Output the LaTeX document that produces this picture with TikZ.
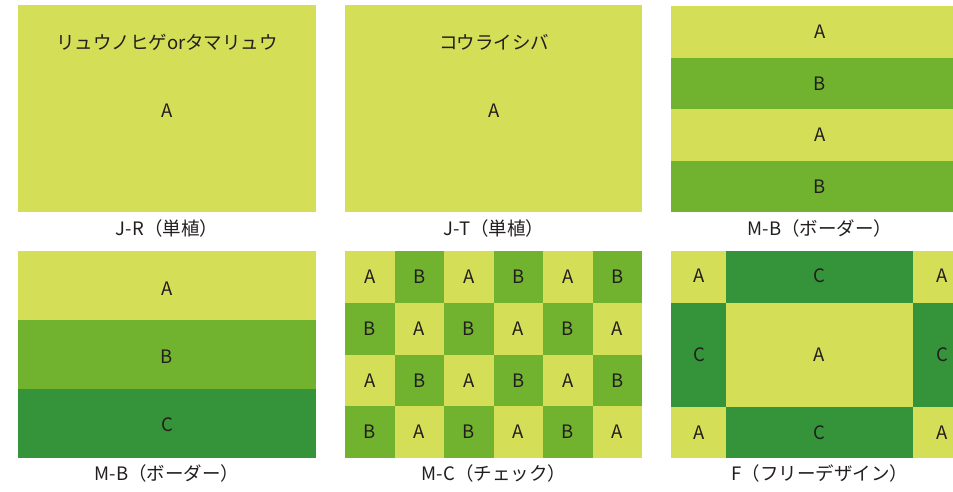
\documentclass[tikz,border=0pt]{standalone}
\usepackage{fontspec}
\setmainfont{Noto Sans CJK JP}
\definecolor{ca}{RGB}{212,222,86}
\definecolor{cb}{RGB}{113,179,46}
\definecolor{cc}{RGB}{53,148,57}
\definecolor{tx}{RGB}{35,30,30}
\tikzset{
  lbl/.style={font=\fontsize{18.5}{20}\selectfont, text=tx, inner sep=0pt},
  captxt/.style={font=\fontsize{18.5}{20}\selectfont, text=tx, inner sep=0pt},
}
\begin{document}
\begin{tikzpicture}[x=1pt,y=-1pt]
\useasboundingbox (0,0) rectangle (953,491);
\clip (0,0) rectangle (953,491);
% Panel 1
\fill[ca] (18,5) rectangle (316,212);
\node[lbl] (p1t) at (167,42) {リュウノヒゲorタマリュウ};
\node[lbl] (p1a) at (167,111) {A};
\node[captxt] (p1c) at (167,228) {J-R（単植）};
% Panel 2
\fill[ca] (345,5) rectangle (642,212);
\node[lbl] (p2t) at (494,42) {コウライシバ};
\node[lbl] (p2a) at (494,111) {A};
\node[captxt] (p2c) at (494,228) {J-T（単植）};
% Panel 3
\fill[ca] (671,6) rectangle (968,57.5);
\fill[cb] (671,57.5) rectangle (968,109);
\fill[ca] (671,109) rectangle (968,160.5);
\fill[cb] (671,160.5) rectangle (968,212);
\node[lbl] (p3a1) at (820,32) {A};
\node[lbl] (p3b1) at (820,84) {B};
\node[lbl] (p3a2) at (820,135) {A};
\node[lbl] (p3b2) at (820,187) {B};
\node[captxt] (p3c) at (820,228) {M-B（ボーダー）};
% Panel 4
\fill[ca] (18,251) rectangle (316,320);
\fill[cb] (18,320) rectangle (316,389);
\fill[cc] (18,389) rectangle (316,458);
\node[lbl] (p4a) at (167,289) {A};
\node[lbl] (p4b) at (167,357) {B};
\node[lbl] (p4c) at (167,425) {C};
\node[captxt] (p4cap) at (167,473) {M-B（ボーダー）};
% Panel 5: checkerboard
\foreach \r in {0,1,2,3}{
  \foreach \c in {0,...,5}{
    \pgfmathtruncatemacro{\parity}{mod(\r+\c,2)}
    \ifnum\parity=0
      \fill[ca] ({345+\c*49.5},{251+\r*51.75}) rectangle ({345+(\c+1)*49.5},{251+(\r+1)*51.75});
      \node[lbl] (p5-\r-\c) at ({345+(\c+0.5)*49.5},{251+(\r+0.5)*51.75}) {A};
    \else
      \fill[cb] ({345+\c*49.5},{251+\r*51.75}) rectangle ({345+(\c+1)*49.5},{251+(\r+1)*51.75});
      \node[lbl] (p5-\r-\c) at ({345+(\c+0.5)*49.5},{251+(\r+0.5)*51.75}) {B};
    \fi
  }
}
\node[captxt] (p5c) at (494,473) {M-C（チェック）};
% Panel 6
\fill[ca] (671,251) rectangle (726,303);
\fill[cc] (726,251) rectangle (913,303);
\fill[ca] (913,251) rectangle (968,303);
\fill[cc] (671,303) rectangle (726,407);
\fill[ca] (726,303) rectangle (913,407);
\fill[cc] (913,303) rectangle (968,407);
\fill[ca] (671,407) rectangle (726,458);
\fill[cc] (726,407) rectangle (913,458);
\fill[ca] (913,407) rectangle (968,458);
\node[lbl] (p6a1) at (699,276) {A};
\node[lbl] (p6c1) at (819,276) {C};
\node[lbl] (p6a2) at (942,276) {A};
\node[lbl] (p6c2) at (699,355) {C};
\node[lbl] (p6a3) at (819,355) {A};
\node[lbl] (p6c3) at (942,355) {C};
\node[lbl] (p6a4) at (699,433) {A};
\node[lbl] (p6c4) at (819,433) {C};
\node[lbl] (p6a5) at (942,433) {A};
\node[captxt] (p6c) at (820,473) {F（フリーデザイン）};
\end{tikzpicture}
\end{document}
